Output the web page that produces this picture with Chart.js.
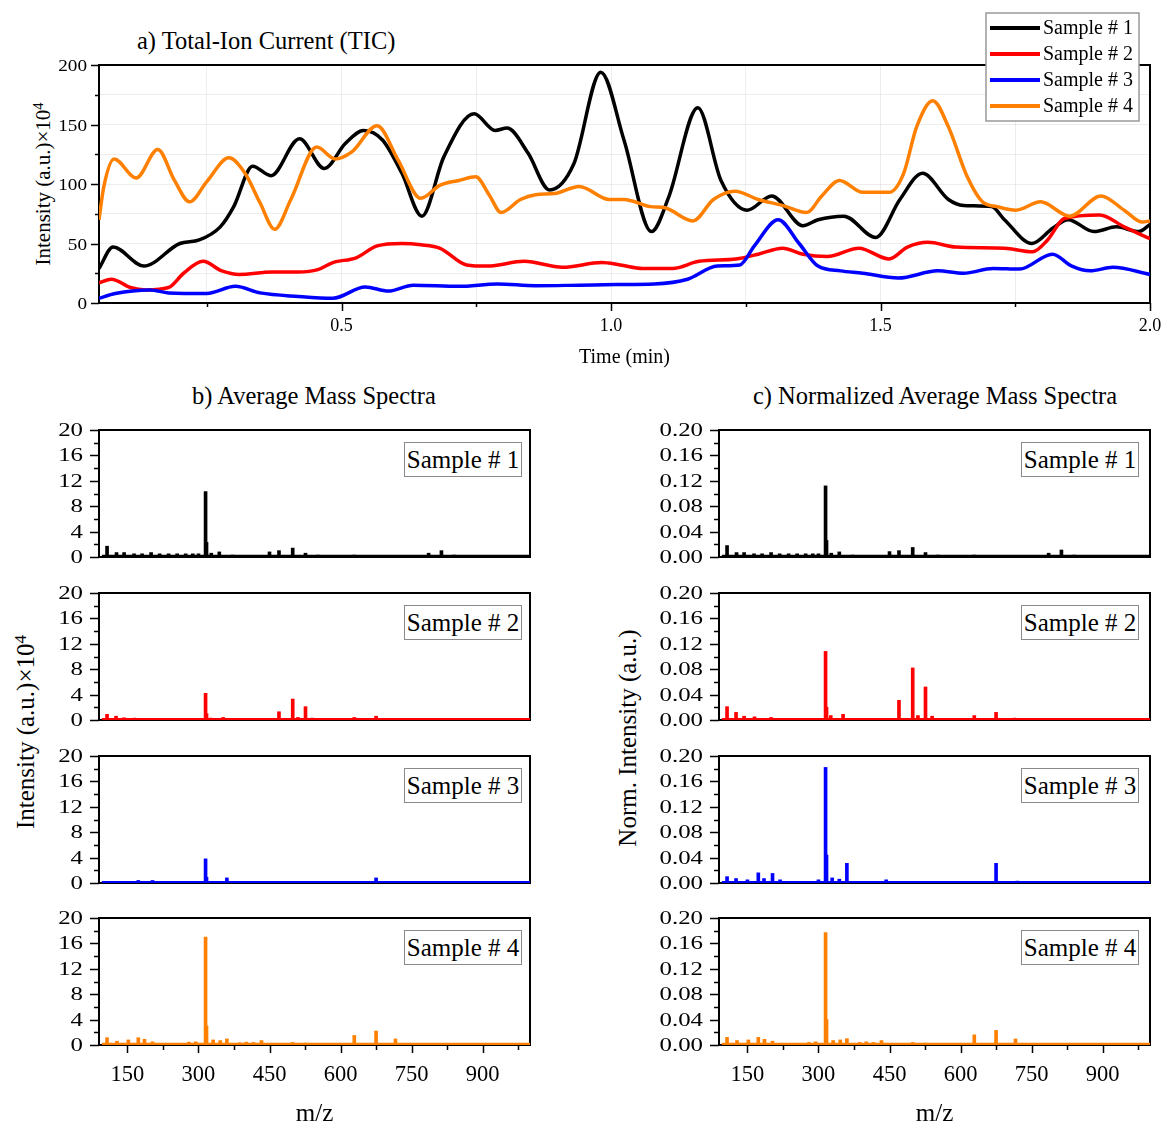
<!DOCTYPE html>
<html><head><meta charset="utf-8">
<script src="https://cdn.jsdelivr.net/npm/chart.js@4.4.1/dist/chart.umd.min.js"></script>
<style>
html,body{margin:0;padding:0;background:#fff;overflow:hidden;}
body{width:1163px;height:1124px;position:relative;font-family:'Liberation Serif','Times New Roman',serif;color:#000;}
canvas{position:absolute;}
.t{position:absolute;white-space:nowrap;line-height:1;}
.sup{font-size:0.68em;position:relative;top:-0.5em;}
.box{position:absolute;border:1.5px solid #8a8a8a;background:#fff;font-size:25px;line-height:1;display:flex;align-items:center;justify-content:center;box-sizing:border-box;white-space:nowrap;}
</style></head><body>
<div class="t" style="left:137px;top:41px;font-size:24.5px;transform:translateY(-50%);">a) Total-Ion Current (TIC)</div>
<div class="t" style="left:43px;top:184px;font-size:21px;transform:translate(-50%,-50%) rotate(-90deg);">Intensity (a.u.)×10<span class="sup">4</span></div>
<div class="t" style="left:314px;top:396px;font-size:24.5px;transform:translate(-50%,-50%);">b) Average Mass Spectra</div>
<div class="t" style="left:935px;top:396px;font-size:24.5px;transform:translate(-50%,-50%);">c) Normalized Average Mass Spectra</div>
<div class="t" style="left:25px;top:732px;font-size:25px;transform:translate(-50%,-50%) rotate(-90deg);">Intensity (a.u.)×10<span class="sup">4</span></div>
<div class="t" style="left:627px;top:738px;font-size:25px;transform:translate(-50%,-50%) rotate(-90deg);">Norm. Intensity (a.u.)</div>
<script>
// ---------- DATA ----------
const sampleNames = ['Sample # 1', 'Sample # 2', 'Sample # 3', 'Sample # 4'];
const sampleColors = ['#000000', '#ff0000', '#0000ff', '#ff8000'];

// TIC (time in min, intensity a.u. x10^4)
const tS1 = [0.05,0.076,0.133,0.20,0.236,0.275,0.30,0.335,0.369,0.422,0.468,0.507,0.541,0.576,0.612,0.649,0.69,0.746,0.785,0.807,0.846,0.886,0.931,0.981,1.024,1.075,1.107,1.161,1.204,1.253,1.298,1.356,1.384,1.432,1.491,1.536,1.578,1.626,1.654,1.706,1.73,1.781,1.82,1.848,1.896,1.938,1.979,2.0];
const yS1 = [29,47,31,50,53,64,81,115,107,138,113,134,145,137,109,73,123,159,145,147,126,95,117,194,137,60,89,164,103,78,90,65,70,73,55,87,109,87,82,81,70,50,63,70,60,64,60,66];
const tS2 = [0.05,0.073,0.108,0.137,0.179,0.207,0.243,0.278,0.31,0.371,0.42,0.456,0.484,0.527,0.566,0.612,0.647,0.683,0.732,0.771,0.839,0.91,0.983,1.017,1.059,1.114,1.163,1.232,1.273,1.318,1.356,1.401,1.46,1.516,1.55,1.588,1.64,1.73,1.782,1.81,1.841,1.907,1.952,2.0];
const yS2 = [17,20,13,11,13,25,35,27,24,26,26,28,34,38,48,50,49,46,32,31,35,30,34,32,29,29,35,37,41,46,41,39,46,37,47,51,47,46,43,53,71,74,64,54];
const tS3 = [0.05,0.08,0.144,0.179,0.25,0.303,0.349,0.42,0.484,0.544,0.587,0.633,0.718,0.789,0.86,0.941,1.01,1.08,1.142,1.197,1.239,1.266,1.31,1.349,1.384,1.426,1.467,1.533,1.606,1.654,1.709,1.758,1.819,1.855,1.889,1.931,2.0];
const yS3 = [4,8,11,8.5,8,14,8.5,5.5,4,13.5,10,15,14,16,14.5,15,15.5,16,20,31,32,48,70,50,31,27,25,21,27,25,29,28.5,41,31,27,30,24];
const tS4 = [0.05,0.059,0.078,0.119,0.159,0.19,0.218,0.25,0.291,0.321,0.349,0.376,0.406,0.454,0.488,0.519,0.566,0.605,0.647,0.683,0.718,0.749,0.775,0.796,0.832,0.86,0.895,0.941,0.997,1.024,1.073,1.10,1.152,1.19,1.23,1.273,1.318,1.363,1.391,1.424,1.467,1.516,1.543,1.567,1.597,1.626,1.661,1.689,1.716,1.751,1.797,1.851,1.909,1.952,1.986,2.0];
const yS4 = [70,98,121,105,129,103,85,102,122,109,84,62,87,131,121,127,149,120,88,99,103,106,90,76,87,91,92,98,87,87,81,80,69,87,94,87,82,76,90,103,93,93,109,148,170,148,106,85,81,78,85,73,90,78,68,69];

const timeTicks = [0.25,0.5,0.75,1.0,1.25,1.5,1.75,2.0];
const timeLabelTicks = [0.5,1.0,1.5,2.0];
const ticYTicks = [0,25,50,75,100,125,150,175,200];
const ticYLabelTicks = [0,50,100,150,200];

// Mass spectra: m/z, average intensity (x10^4), normalized intensity
const mzS1 = [107,127,143,164,181,200,218,237,255,273,288,300,315,317,327,344,372,450,470,499,526,552,629,657,786,813,840];
const abS1 = [1.7,0.7,0.7,0.5,0.5,0.7,0.5,0.5,0.5,0.5,0.5,0.5,10.3,2.3,0.6,0.8,0.3,0.8,1.0,1.4,0.6,0.3,0.3,0.2,0.6,1.0,0.3];
const nmS1 = [0.018,0.007,0.007,0.005,0.005,0.007,0.005,0.005,0.005,0.005,0.005,0.005,0.112,0.026,0.006,0.008,0.003,0.0085,0.010,0.015,0.007,0.003,0.003,0.002,0.006,0.011,0.003];

const mzS2 = [107,126,143,165,200,315,317,326,352,470,499,510,526,540,629,675,714];
const abS2 = [0.9,0.6,0.35,0.3,0.25,4.2,1.0,0.3,0.4,1.3,3.3,0.4,2.1,0.3,0.4,0.6,0.2];
const nmS2 = [0.021,0.012,0.006,0.005,0.004,0.108,0.020,0.007,0.009,0.031,0.082,0.007,0.052,0.006,0.007,0.012,0.003];

const mzS3 = [107,126,150,173,185,203,219,300,315,317,329,344,360,443,675,720];
const abS3 = [0.25,0.2,0.15,0.4,0.2,0.4,0.15,0.15,3.8,0.9,0.2,0.15,0.8,0.15,0.8,0.1];
const nmS3 = [0.010,0.007,0.005,0.016,0.007,0.015,0.005,0.005,0.182,0.044,0.008,0.006,0.031,0.005,0.031,0.003];

const mzS4 = [107,128,152,173,186,203,280,294,315,317,331,346,360,387,401,416,433,499,526,629,675,716];
const abS4 = [1.15,0.6,0.8,1.15,0.9,0.5,0.45,0.5,17.0,3.0,0.8,0.7,0.95,0.35,0.45,0.4,0.7,0.4,0.3,1.5,2.2,0.95];
const nmS4 = [0.012,0.007,0.008,0.012,0.009,0.006,0.004,0.005,0.177,0.040,0.007,0.008,0.010,0.004,0.005,0.004,0.007,0.004,0.003,0.016,0.023,0.0095];

const baseAbs = [0.15,0.12,0.12,0.15];
const baseNorm = [0.0015,0.0012,0.0012,0.0015];
const baseRange = [96, 1000];

const mzTicks = [150,225,300,375,450,525,600,675,750,825,900,975];
const mzLabelTicks = [150,300,450,600,750,900];
const absYTicks = [0,2,4,6,8,10,12,14,16,18,20];
const absYLabelTicks = [0,4,8,12,16,20];
const normYTicks = [0,0.02,0.04,0.06,0.08,0.10,0.12,0.14,0.16,0.18,0.20];
const normYLabelTicks = [0,0.04,0.08,0.12,0.16,0.20];

// ---------- RENDER ----------
const FONT = "'Liberation Serif','Times New Roman',serif";
Chart.defaults.font.family = FONT;
Chart.defaults.color = '#000';
Chart.defaults.animation = false;

function mkCanvas(left, top, w, h) {
  const c = document.createElement('canvas');
  c.width = w; c.height = h;
  c.style.left = left + 'px'; c.style.top = top + 'px';
  c.style.width = w + 'px'; c.style.height = h + 'px';
  document.body.appendChild(c);
  return c;
}

const framePlugin = {
  id: 'frame',
  beforeDatasetsDraw(c) {
    const a = c.chartArea, ctx = c.ctx;
    ctx.save();
    ctx.strokeStyle = '#000'; ctx.lineWidth = 2;
    ctx.strokeRect(a.left, a.top, a.right - a.left, a.bottom - a.top);
    ctx.restore();
  }
};

// tick marks (major/minor) and horizontally stretched y labels, placed by the chart's scales
function axisDeco(cfg) {
  return {
    id: 'axisDeco',
    afterDraw(c) {
      const ctx = c.ctx;
      ctx.save();
      ctx.strokeStyle = '#000'; ctx.lineWidth = 1.5;
      if (cfg.x) {
        const s = c.scales.x;
        s.ticks.forEach(t => {
          const px = Math.round(s.getPixelForValue(t.value)) + 0.5;
          const len = cfg.x.major.includes(t.value) ? cfg.x.lenMaj : cfg.x.lenMin;
          ctx.beginPath(); ctx.moveTo(px, s.top); ctx.lineTo(px, s.top + len); ctx.stroke();
        });
      }
      if (cfg.y) {
        const s = c.scales.y;
        s.ticks.forEach(t => {
          const py = Math.round(s.getPixelForValue(t.value)) + 0.5;
          const maj = cfg.y.major.some(m => Math.abs(m - t.value) < 1e-9);
          const len = maj ? cfg.y.lenMaj : cfg.y.lenMin;
          ctx.beginPath(); ctx.moveTo(s.right, py); ctx.lineTo(s.right - len, py); ctx.stroke();
          if (maj) {
            ctx.save();
            ctx.font = cfg.y.size + 'px ' + FONT;
            ctx.fillStyle = '#000'; ctx.textAlign = 'right'; ctx.textBaseline = 'middle';
            ctx.translate(s.right - cfg.y.gap, py + 1);
            ctx.scale(cfg.y.sx, 1);
            ctx.fillText(t.value.toFixed(cfg.y.dec), 0, 0);
            ctx.restore();
          }
        });
      }
      ctx.restore();
    }
  };
}

const ticLegend = {
  id: 'ticLegend',
  afterDraw(c) {
    const ctx = c.ctx;
    ctx.save();
    ctx.fillStyle = '#fff'; ctx.fillRect(986, 13, 153, 108);
    ctx.strokeStyle = '#999'; ctx.lineWidth = 1.5; ctx.strokeRect(986, 13, 153, 108);
    c.data.datasets.forEach((d, i) => {
      const y = 28 + 26 * i;
      ctx.strokeStyle = d.borderColor; ctx.lineWidth = 4;
      ctx.beginPath(); ctx.moveTo(990, y); ctx.lineTo(1040, y); ctx.stroke();
      ctx.fillStyle = '#000'; ctx.font = '20px ' + FONT; ctx.textBaseline = 'middle';
      ctx.fillText(d.label, 1043, y + 1);
    });
    ctx.restore();
  }
};

// TIC chart
const ticT = [tS1, tS2, tS3, tS4], ticY = [yS1, yS2, yS3, yS4];
new Chart(mkCanvas(0, 0, 1163, 380), {
  type: 'line',
  data: {
    datasets: ticT.map((ts, i) => ({
      label: sampleNames[i],
      data: ts.map((t, j) => ({ x: t, y: ticY[i][j] })),
      borderColor: sampleColors[i], borderWidth: 3.5, pointRadius: 0,
      cubicInterpolationMode: 'monotone', fill: false, order: 4 - i
    }))
  },
  options: {
    responsive: false, animation: false,
    layout: { padding: { left: 0, top: 65, right: 13, bottom: 0 } },
    plugins: { legend: { display: false }, tooltip: { enabled: false } },
    scales: {
      x: {
        type: 'linear', min: 0.05, max: 2.0,
        afterBuildTicks(s) { s.ticks = timeTicks.map(v => ({ value: v })); },
        afterFit(s) { s.height = 77; },
        ticks: { autoSkip: false, maxRotation: 0, minRotation: 0, padding: 1, font: { size: 18 },
          callback: v => timeLabelTicks.includes(v) ? v.toFixed(1) : '' },
        grid: { color: 'rgba(0,0,0,0.07)', drawTicks: true, tickLength: 11, tickColor: 'rgba(0,0,0,0)' },
        border: { display: false },
        title: { display: true, text: 'Time (min)', font: { size: 20 }, padding: { top: 0, bottom: 10 } }
      },
      y: {
        min: 0, max: 200,
        afterBuildTicks(s) { s.ticks = ticYTicks.map(v => ({ value: v })); },
        afterFit(s) { s.width = 99; },
        ticks: { display: false },
        grid: { color: 'rgba(0,0,0,0.07)', drawTicks: false },
        border: { display: false }
      }
    }
  },
  plugins: [framePlugin, axisDeco({
    x: { major: timeLabelTicks, lenMaj: 8, lenMin: 4 },
    y: { major: ticYLabelTicks, lenMaj: 8, lenMin: 4, size: 17, sx: 1.13, gap: 12, dec: 0 }
  }), ticLegend]
});

// Spectra
const rowTop = [430, 593, 756, 918];
const PH = 127;
const cols = [
  { left: 20, width: 520, yw: 79, pr: 10, ymax: 20, yt: absYTicks, yl: absYLabelTicks, dec: 0, base: baseAbs, boxRight: 522 },
  { left: 640, width: 523, yw: 79, pr: 13, ymax: 0.2, yt: normYTicks, yl: normYLabelTicks, dec: 2, base: baseNorm, boxRight: 1139 }
];
const specMz = [mzS1, mzS2, mzS3, mzS4];
const specVals = [[abS1, abS2, abS3, abS4], [nmS1, nmS2, nmS3, nmS4]];

function spectrum(ci, row) {
  const cv = cols[ci];
  const isLast = row === 3;
  const xh = isLast ? 79 : 10;
  const pt = rowTop[row];
  const mz = specMz[row], vals = specVals[ci][row], color = sampleColors[row], base = cv.base[row];
  const deco = { y: { major: cv.yl, lenMaj: 9, lenMin: 5, size: 18, sx: 1.38, gap: 16, dec: cv.dec } };
  if (isLast) deco.x = { major: mzLabelTicks, lenMaj: 8, lenMin: 5 };
  new Chart(mkCanvas(cv.left, pt - 15, cv.width, 15 + PH + xh), {
    type: 'bar',
    data: {
      datasets: [
        { type: 'bar', data: mz.map((m, i) => ({ x: m, y: vals[i] })), backgroundColor: color, barThickness: 3, order: 1 },
        { type: 'line', data: baseRange.map(m => ({ x: m, y: base })), borderColor: color, borderWidth: 2.5, pointRadius: 0, order: 2 }
      ]
    },
    options: {
      responsive: false, animation: false,
      layout: { padding: { left: 0, top: 15, right: cv.pr, bottom: 0 } },
      plugins: { legend: { display: false }, tooltip: { enabled: false } },
      scales: {
        x: {
          type: 'linear', min: 90, max: 1000, offset: false,
          afterBuildTicks(s) { s.ticks = mzTicks.map(v => ({ value: v })); },
          afterFit(s) { s.height = xh; },
          ticks: { display: isLast, autoSkip: false, maxRotation: 0, minRotation: 0, padding: 9, font: { size: 22.5 },
            callback: v => mzLabelTicks.includes(v) ? String(v) : '' },
          grid: { display: false },
          border: { display: false },
          title: { display: isLast, text: 'm/z', font: { size: 25, lineHeight: 1 }, padding: { top: 0, bottom: -3 } }
        },
        y: {
          min: 0, max: cv.ymax,
          afterBuildTicks(s) { s.ticks = cv.yt.map(v => ({ value: v })); },
          afterFit(s) { s.width = cv.yw; },
          ticks: { display: false },
          grid: { display: false },
          border: { display: false }
        }
      }
    },
    plugins: [framePlugin, axisDeco(deco)]
  });
  const b = document.createElement('div');
  b.className = 'box';
  b.textContent = sampleNames[row];
  b.style.left = (cv.boxRight - 118) + 'px';
  b.style.top = (pt + 11.5) + 'px';
  b.style.width = '118px';
  b.style.height = '35px';
  document.body.appendChild(b);
}
for (let ci = 0; ci < 2; ci++) for (let r = 0; r < 4; r++) spectrum(ci, r);
</script>
</body></html>
